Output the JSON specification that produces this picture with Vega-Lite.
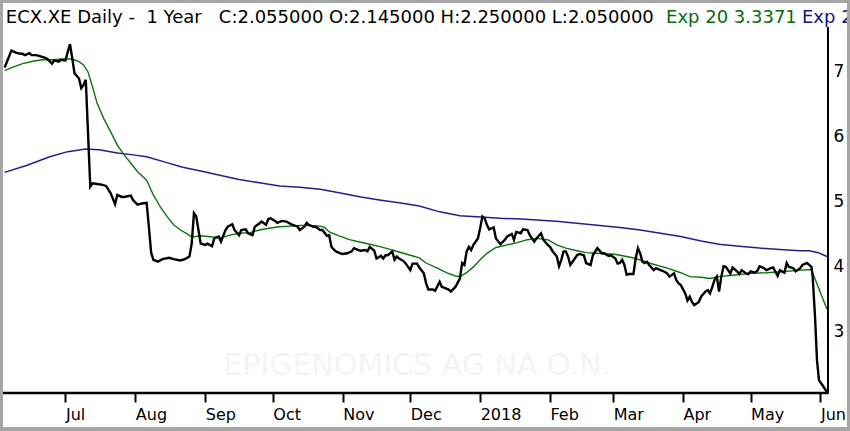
{
  "$schema": "https://vega.github.io/schema/vega-lite/v6.json",
  "width": 844,
  "height": 424,
  "autosize": {"type": "none"},
  "padding": {"left": 3, "top": 3, "right": 3, "bottom": 4},
  "background": "#a6a6a6",
  "datasets": {
    "close": [
      {"date": "2017-06-04", "value": 7.07}, {"date": "2017-06-07", "value": 7.33}, {"date": "2017-06-09", "value": 7.30},
      {"date": "2017-06-10", "value": 7.29}, {"date": "2017-06-12", "value": 7.28}, {"date": "2017-06-13", "value": 7.26},
      {"date": "2017-06-15", "value": 7.29}, {"date": "2017-06-16", "value": 7.26}, {"date": "2017-06-18", "value": 7.26},
      {"date": "2017-06-20", "value": 7.24}, {"date": "2017-06-22", "value": 7.22}, {"date": "2017-06-23", "value": 7.20},
      {"date": "2017-06-25", "value": 7.13}, {"date": "2017-06-26", "value": 7.18}, {"date": "2017-06-28", "value": 7.16},
      {"date": "2017-06-29", "value": 7.19}, {"date": "2017-07-01", "value": 7.18}, {"date": "2017-07-02", "value": 7.31},
      {"date": "2017-07-03", "value": 7.43}, {"date": "2017-07-04", "value": 7.21}, {"date": "2017-07-05", "value": 6.98},
      {"date": "2017-07-07", "value": 6.90}, {"date": "2017-07-08", "value": 6.75}, {"date": "2017-07-09", "value": 6.80},
      {"date": "2017-07-10", "value": 6.88}, {"date": "2017-07-12", "value": 5.23}, {"date": "2017-07-13", "value": 5.28},
      {"date": "2017-07-15", "value": 5.27}, {"date": "2017-07-17", "value": 5.26}, {"date": "2017-07-19", "value": 5.24},
      {"date": "2017-07-21", "value": 5.13}, {"date": "2017-07-23", "value": 4.96}, {"date": "2017-07-24", "value": 5.10},
      {"date": "2017-07-26", "value": 5.07}, {"date": "2017-07-27", "value": 5.07}, {"date": "2017-07-30", "value": 5.09},
      {"date": "2017-07-31", "value": 5.02}, {"date": "2017-08-02", "value": 4.95}, {"date": "2017-08-04", "value": 4.97},
      {"date": "2017-08-06", "value": 4.98}, {"date": "2017-08-07", "value": 4.61}, {"date": "2017-08-08", "value": 4.21},
      {"date": "2017-08-09", "value": 4.10}, {"date": "2017-08-11", "value": 4.07}, {"date": "2017-08-13", "value": 4.11},
      {"date": "2017-08-16", "value": 4.13}, {"date": "2017-08-18", "value": 4.11}, {"date": "2017-08-21", "value": 4.09},
      {"date": "2017-08-23", "value": 4.11}, {"date": "2017-08-25", "value": 4.15}, {"date": "2017-08-26", "value": 4.35},
      {"date": "2017-08-27", "value": 4.82}, {"date": "2017-08-28", "value": 4.77}, {"date": "2017-08-29", "value": 4.56},
      {"date": "2017-08-30", "value": 4.35}, {"date": "2017-09-01", "value": 4.33}, {"date": "2017-09-02", "value": 4.35},
      {"date": "2017-09-04", "value": 4.31}, {"date": "2017-09-05", "value": 4.43}, {"date": "2017-09-07", "value": 4.46},
      {"date": "2017-09-08", "value": 4.38}, {"date": "2017-09-10", "value": 4.56}, {"date": "2017-09-11", "value": 4.61},
      {"date": "2017-09-13", "value": 4.65}, {"date": "2017-09-14", "value": 4.56}, {"date": "2017-09-16", "value": 4.48},
      {"date": "2017-09-17", "value": 4.56}, {"date": "2017-09-19", "value": 4.57}, {"date": "2017-09-20", "value": 4.51},
      {"date": "2017-09-22", "value": 4.48}, {"date": "2017-09-23", "value": 4.61}, {"date": "2017-09-25", "value": 4.66},
      {"date": "2017-09-26", "value": 4.69}, {"date": "2017-09-28", "value": 4.64}, {"date": "2017-09-29", "value": 4.73},
      {"date": "2017-09-30", "value": 4.74}, {"date": "2017-10-02", "value": 4.70}, {"date": "2017-10-03", "value": 4.67},
      {"date": "2017-10-05", "value": 4.70}, {"date": "2017-10-07", "value": 4.69}, {"date": "2017-10-09", "value": 4.65},
      {"date": "2017-10-12", "value": 4.61}, {"date": "2017-10-13", "value": 4.56}, {"date": "2017-10-15", "value": 4.61},
      {"date": "2017-10-16", "value": 4.67}, {"date": "2017-10-17", "value": 4.64}, {"date": "2017-10-19", "value": 4.61},
      {"date": "2017-10-20", "value": 4.61}, {"date": "2017-10-22", "value": 4.56}, {"date": "2017-10-23", "value": 4.56},
      {"date": "2017-10-25", "value": 4.47}, {"date": "2017-10-26", "value": 4.48}, {"date": "2017-10-27", "value": 4.30},
      {"date": "2017-10-28", "value": 4.26}, {"date": "2017-10-29", "value": 4.23}, {"date": "2017-10-31", "value": 4.20},
      {"date": "2017-11-01", "value": 4.19}, {"date": "2017-11-03", "value": 4.20}, {"date": "2017-11-05", "value": 4.23},
      {"date": "2017-11-06", "value": 4.28}, {"date": "2017-11-08", "value": 4.25}, {"date": "2017-11-09", "value": 4.24},
      {"date": "2017-11-11", "value": 4.25}, {"date": "2017-11-12", "value": 4.23}, {"date": "2017-11-13", "value": 4.30},
      {"date": "2017-11-15", "value": 4.24}, {"date": "2017-11-16", "value": 4.12}, {"date": "2017-11-18", "value": 4.16},
      {"date": "2017-11-19", "value": 4.12}, {"date": "2017-11-20", "value": 4.17}, {"date": "2017-11-21", "value": 4.17},
      {"date": "2017-11-23", "value": 4.23}, {"date": "2017-11-24", "value": 4.10}, {"date": "2017-11-25", "value": 4.15},
      {"date": "2017-11-26", "value": 4.12}, {"date": "2017-11-28", "value": 4.08}, {"date": "2017-11-29", "value": 4.04},
      {"date": "2017-12-01", "value": 3.94}, {"date": "2017-12-02", "value": 4.04}, {"date": "2017-12-04", "value": 4.04},
      {"date": "2017-12-05", "value": 3.98}, {"date": "2017-12-07", "value": 3.89}, {"date": "2017-12-08", "value": 3.74},
      {"date": "2017-12-09", "value": 3.64}, {"date": "2017-12-11", "value": 3.64}, {"date": "2017-12-12", "value": 3.62},
      {"date": "2017-12-14", "value": 3.76}, {"date": "2017-12-15", "value": 3.68}, {"date": "2017-12-16", "value": 3.67},
      {"date": "2017-12-18", "value": 3.64}, {"date": "2017-12-19", "value": 3.61}, {"date": "2017-12-21", "value": 3.68},
      {"date": "2017-12-23", "value": 3.81}, {"date": "2017-12-24", "value": 4.05}, {"date": "2017-12-25", "value": 4.02},
      {"date": "2017-12-26", "value": 4.23}, {"date": "2017-12-27", "value": 4.30}, {"date": "2017-12-28", "value": 4.25},
      {"date": "2017-12-29", "value": 4.33}, {"date": "2017-12-31", "value": 4.43}, {"date": "2018-01-01", "value": 4.59},
      {"date": "2018-01-02", "value": 4.77}, {"date": "2018-01-03", "value": 4.74}, {"date": "2018-01-04", "value": 4.64},
      {"date": "2018-01-05", "value": 4.57}, {"date": "2018-01-07", "value": 4.60}, {"date": "2018-01-08", "value": 4.43},
      {"date": "2018-01-10", "value": 4.34}, {"date": "2018-01-12", "value": 4.41}, {"date": "2018-01-13", "value": 4.46},
      {"date": "2018-01-15", "value": 4.50}, {"date": "2018-01-16", "value": 4.41}, {"date": "2018-01-17", "value": 4.53},
      {"date": "2018-01-19", "value": 4.51}, {"date": "2018-01-20", "value": 4.57}, {"date": "2018-01-22", "value": 4.56},
      {"date": "2018-01-23", "value": 4.48}, {"date": "2018-01-25", "value": 4.38}, {"date": "2018-01-26", "value": 4.43},
      {"date": "2018-01-28", "value": 4.51}, {"date": "2018-01-29", "value": 4.41}, {"date": "2018-01-31", "value": 4.33},
      {"date": "2018-02-01", "value": 4.30}, {"date": "2018-02-02", "value": 4.24}, {"date": "2018-02-04", "value": 4.15},
      {"date": "2018-02-05", "value": 4.00}, {"date": "2018-02-06", "value": 4.10}, {"date": "2018-02-07", "value": 4.23},
      {"date": "2018-02-08", "value": 4.23}, {"date": "2018-02-09", "value": 4.15}, {"date": "2018-02-10", "value": 4.02},
      {"date": "2018-02-11", "value": 4.07}, {"date": "2018-02-13", "value": 4.17}, {"date": "2018-02-14", "value": 4.19},
      {"date": "2018-02-16", "value": 4.17}, {"date": "2018-02-17", "value": 4.05}, {"date": "2018-02-19", "value": 4.02},
      {"date": "2018-02-20", "value": 4.17}, {"date": "2018-02-22", "value": 4.28}, {"date": "2018-02-24", "value": 4.20},
      {"date": "2018-02-25", "value": 4.20}, {"date": "2018-02-27", "value": 4.16}, {"date": "2018-02-28", "value": 4.17},
      {"date": "2018-03-02", "value": 4.12}, {"date": "2018-03-03", "value": 4.04}, {"date": "2018-03-04", "value": 4.05},
      {"date": "2018-03-05", "value": 4.10}, {"date": "2018-03-06", "value": 4.02}, {"date": "2018-03-07", "value": 3.87},
      {"date": "2018-03-08", "value": 3.88}, {"date": "2018-03-10", "value": 3.88}, {"date": "2018-03-11", "value": 4.12},
      {"date": "2018-03-12", "value": 4.28}, {"date": "2018-03-13", "value": 4.20}, {"date": "2018-03-14", "value": 4.07},
      {"date": "2018-03-15", "value": 4.05}, {"date": "2018-03-16", "value": 4.07}, {"date": "2018-03-17", "value": 4.02},
      {"date": "2018-03-19", "value": 3.94}, {"date": "2018-03-20", "value": 3.97}, {"date": "2018-03-22", "value": 3.94},
      {"date": "2018-03-23", "value": 3.93}, {"date": "2018-03-25", "value": 3.89}, {"date": "2018-03-26", "value": 3.84},
      {"date": "2018-03-28", "value": 3.89}, {"date": "2018-03-29", "value": 3.79}, {"date": "2018-03-30", "value": 3.74},
      {"date": "2018-03-31", "value": 3.71}, {"date": "2018-04-02", "value": 3.58}, {"date": "2018-04-03", "value": 3.47},
      {"date": "2018-04-04", "value": 3.53}, {"date": "2018-04-05", "value": 3.45}, {"date": "2018-04-06", "value": 3.40},
      {"date": "2018-04-08", "value": 3.45}, {"date": "2018-04-09", "value": 3.53}, {"date": "2018-04-11", "value": 3.61},
      {"date": "2018-04-12", "value": 3.63}, {"date": "2018-04-13", "value": 3.58}, {"date": "2018-04-14", "value": 3.68},
      {"date": "2018-04-15", "value": 3.79}, {"date": "2018-04-16", "value": 3.84}, {"date": "2018-04-17", "value": 3.61},
      {"date": "2018-04-18", "value": 3.84}, {"date": "2018-04-19", "value": 4.00}, {"date": "2018-04-20", "value": 3.99},
      {"date": "2018-04-22", "value": 3.89}, {"date": "2018-04-23", "value": 3.98}, {"date": "2018-04-25", "value": 3.92},
      {"date": "2018-04-26", "value": 3.88}, {"date": "2018-04-27", "value": 3.94}, {"date": "2018-04-29", "value": 3.89},
      {"date": "2018-04-30", "value": 3.88}, {"date": "2018-05-01", "value": 3.92}, {"date": "2018-05-03", "value": 3.90},
      {"date": "2018-05-04", "value": 3.93}, {"date": "2018-05-05", "value": 4.00}, {"date": "2018-05-07", "value": 3.97},
      {"date": "2018-05-08", "value": 3.94}, {"date": "2018-05-10", "value": 3.97}, {"date": "2018-05-11", "value": 3.98},
      {"date": "2018-05-13", "value": 3.85}, {"date": "2018-05-14", "value": 3.94}, {"date": "2018-05-16", "value": 3.90},
      {"date": "2018-05-17", "value": 4.05}, {"date": "2018-05-18", "value": 3.99}, {"date": "2018-05-20", "value": 3.97},
      {"date": "2018-05-21", "value": 3.92}, {"date": "2018-05-23", "value": 3.97}, {"date": "2018-05-24", "value": 4.02},
      {"date": "2018-05-26", "value": 4.05}, {"date": "2018-05-27", "value": 4.02}, {"date": "2018-05-28", "value": 3.99},
      {"date": "2018-05-28T13:00:00Z", "value": 3.84}, {"date": "2018-05-29T14:00:00Z", "value": 3.22},
      {"date": "2018-05-30T11:00:00Z", "value": 2.55}, {"date": "2018-05-31T08:00:00Z", "value": 2.24},
      {"date": "2018-06-02T03:00:00Z", "value": 2.15}, {"date": "2018-06-03T21:00:00Z", "value": 2.055}
    ],
    "exp20": [
      {"date": "2017-06-04", "value": 7.02}, {"date": "2017-06-08", "value": 7.08}, {"date": "2017-06-12", "value": 7.13},
      {"date": "2017-06-17", "value": 7.17}, {"date": "2017-06-21", "value": 7.19}, {"date": "2017-06-26", "value": 7.19},
      {"date": "2017-06-30", "value": 7.20}, {"date": "2017-07-04", "value": 7.20}, {"date": "2017-07-07", "value": 7.16},
      {"date": "2017-07-09", "value": 7.11}, {"date": "2017-07-11", "value": 7.00}, {"date": "2017-07-13", "value": 6.77},
      {"date": "2017-07-15", "value": 6.52}, {"date": "2017-07-18", "value": 6.28}, {"date": "2017-07-21", "value": 6.08},
      {"date": "2017-07-24", "value": 5.87}, {"date": "2017-07-27", "value": 5.72}, {"date": "2017-07-30", "value": 5.59},
      {"date": "2017-08-02", "value": 5.46}, {"date": "2017-08-06", "value": 5.33}, {"date": "2017-08-09", "value": 5.10},
      {"date": "2017-08-12", "value": 4.92}, {"date": "2017-08-15", "value": 4.77}, {"date": "2017-08-18", "value": 4.64},
      {"date": "2017-08-21", "value": 4.56}, {"date": "2017-08-24", "value": 4.50}, {"date": "2017-08-26", "value": 4.45},
      {"date": "2017-08-30", "value": 4.47}, {"date": "2017-09-02", "value": 4.46}, {"date": "2017-09-05", "value": 4.45},
      {"date": "2017-09-08", "value": 4.44}, {"date": "2017-09-12", "value": 4.48}, {"date": "2017-09-16", "value": 4.51},
      {"date": "2017-09-21", "value": 4.52}, {"date": "2017-09-25", "value": 4.56}, {"date": "2017-09-30", "value": 4.59},
      {"date": "2017-10-04", "value": 4.61}, {"date": "2017-10-09", "value": 4.62}, {"date": "2017-10-13", "value": 4.63},
      {"date": "2017-10-17", "value": 4.63}, {"date": "2017-10-22", "value": 4.62}, {"date": "2017-10-24", "value": 4.60},
      {"date": "2017-10-26", "value": 4.53}, {"date": "2017-10-31", "value": 4.46}, {"date": "2017-11-04", "value": 4.41},
      {"date": "2017-11-09", "value": 4.37}, {"date": "2017-11-13", "value": 4.34}, {"date": "2017-11-18", "value": 4.30},
      {"date": "2017-11-22", "value": 4.26}, {"date": "2017-11-26", "value": 4.22}, {"date": "2017-12-01", "value": 4.17},
      {"date": "2017-12-05", "value": 4.13}, {"date": "2017-12-08", "value": 4.05}, {"date": "2017-12-13", "value": 3.97},
      {"date": "2017-12-17", "value": 3.90}, {"date": "2017-12-21", "value": 3.85}, {"date": "2017-12-23", "value": 3.84},
      {"date": "2017-12-26", "value": 3.90}, {"date": "2017-12-29", "value": 3.99}, {"date": "2018-01-01", "value": 4.10},
      {"date": "2018-01-04", "value": 4.20}, {"date": "2018-01-08", "value": 4.29}, {"date": "2018-01-13", "value": 4.33},
      {"date": "2018-01-17", "value": 4.36}, {"date": "2018-01-22", "value": 4.41}, {"date": "2018-01-26", "value": 4.43},
      {"date": "2018-01-31", "value": 4.41}, {"date": "2018-02-04", "value": 4.33}, {"date": "2018-02-08", "value": 4.28},
      {"date": "2018-02-13", "value": 4.24}, {"date": "2018-02-17", "value": 4.21}, {"date": "2018-02-22", "value": 4.20},
      {"date": "2018-02-26", "value": 4.19}, {"date": "2018-03-01", "value": 4.19}, {"date": "2018-03-04", "value": 4.17},
      {"date": "2018-03-07", "value": 4.15}, {"date": "2018-03-11", "value": 4.12}, {"date": "2018-03-17", "value": 4.05},
      {"date": "2018-03-25", "value": 3.97}, {"date": "2018-03-31", "value": 3.90}, {"date": "2018-04-04", "value": 3.84},
      {"date": "2018-04-09", "value": 3.83}, {"date": "2018-04-13", "value": 3.81}, {"date": "2018-04-17", "value": 3.84},
      {"date": "2018-04-23", "value": 3.86}, {"date": "2018-05-01", "value": 3.89}, {"date": "2018-05-08", "value": 3.90},
      {"date": "2018-05-16", "value": 3.92}, {"date": "2018-05-23", "value": 3.94}, {"date": "2018-05-28", "value": 3.95},
      {"date": "2018-05-31", "value": 3.68}, {"date": "2018-06-03T21:00:00Z", "value": 3.3371}
    ],
    "exp200": [
      {"date": "2017-06-04", "value": 5.45}, {"date": "2017-06-14", "value": 5.56}, {"date": "2017-06-24", "value": 5.69},
      {"date": "2017-07-02", "value": 5.77}, {"date": "2017-07-10", "value": 5.81}, {"date": "2017-07-16", "value": 5.80},
      {"date": "2017-07-24", "value": 5.75}, {"date": "2017-07-31", "value": 5.72}, {"date": "2017-08-06", "value": 5.69},
      {"date": "2017-08-15", "value": 5.60}, {"date": "2017-08-22", "value": 5.53}, {"date": "2017-08-30", "value": 5.47},
      {"date": "2017-09-08", "value": 5.40}, {"date": "2017-09-16", "value": 5.34}, {"date": "2017-09-25", "value": 5.29},
      {"date": "2017-10-04", "value": 5.24}, {"date": "2017-10-13", "value": 5.22}, {"date": "2017-10-22", "value": 5.19},
      {"date": "2017-10-31", "value": 5.13}, {"date": "2017-11-09", "value": 5.07}, {"date": "2017-11-18", "value": 5.02},
      {"date": "2017-11-26", "value": 4.98}, {"date": "2017-12-05", "value": 4.93}, {"date": "2017-12-14", "value": 4.84},
      {"date": "2017-12-23", "value": 4.78}, {"date": "2018-01-01", "value": 4.76}, {"date": "2018-01-10", "value": 4.74},
      {"date": "2018-01-19", "value": 4.73}, {"date": "2018-01-28", "value": 4.71}, {"date": "2018-02-05", "value": 4.69},
      {"date": "2018-02-14", "value": 4.66}, {"date": "2018-02-23", "value": 4.63}, {"date": "2018-03-04", "value": 4.60},
      {"date": "2018-03-13", "value": 4.56}, {"date": "2018-03-22", "value": 4.51}, {"date": "2018-03-31", "value": 4.46},
      {"date": "2018-04-09", "value": 4.39}, {"date": "2018-04-17", "value": 4.34}, {"date": "2018-04-26", "value": 4.31},
      {"date": "2018-05-05", "value": 4.28}, {"date": "2018-05-14", "value": 4.26}, {"date": "2018-05-23", "value": 4.24},
      {"date": "2018-05-27", "value": 4.24}, {"date": "2018-05-31", "value": 4.21}, {"date": "2018-06-03T21:00:00Z", "value": 4.15}
    ]
  },
  "layer": [
    {
      "data": {"values": [{}]},
      "mark": {"type": "text", "text": "EPIGENOMICS AG NA O.N.", "font": "DejaVu Sans", "fontSize": 30, "align": "center", "baseline": "alphabetic", "color": "#f4f4f4"},
      "encoding": {
        "x": {"datum": {"year": 2017, "month": 12, "date": 4, "utc": true}, "type": "temporal"},
        "y": {"datum": 2.32, "type": "quantitative"}
      }
    },
    {
      "data": {"name": "exp200"},
      "mark": {"type": "line", "stroke": "#2b1b8a", "strokeWidth": 1.5},
      "encoding": {
        "x": {
          "field": "date", "type": "temporal", "title": null,
          "scale": {
            "type": "utc", "nice": false,
            "domain": [
              {"year": 2017, "month": 6, "date": 3, "hours": 6, "minutes": 30, "utc": true},
              {"year": 2018, "month": 6, "date": 12, "hours": 18, "minutes": 30, "utc": true}
            ]
          },
          "axis": {
            "orient": "bottom", "offset": -34, "domain": false, "grid": false,
            "values": [
              {"year": 2017, "month": 7, "date": 1, "utc": true}, {"year": 2017, "month": 8, "date": 1, "utc": true},
              {"year": 2017, "month": 9, "date": 1, "utc": true}, {"year": 2017, "month": 10, "date": 1, "utc": true},
              {"year": 2017, "month": 11, "date": 1, "utc": true}, {"year": 2017, "month": 12, "date": 1, "utc": true},
              {"year": 2018, "month": 1, "date": 1, "utc": true}, {"year": 2018, "month": 2, "date": 1, "utc": true},
              {"year": 2018, "month": 3, "date": 1, "utc": true}, {"year": 2018, "month": 4, "date": 1, "utc": true},
              {"year": 2018, "month": 5, "date": 1, "utc": true}, {"year": 2018, "month": 6, "date": 1, "utc": true}
            ],
            "labelExpr": "utcmonth(datum.value) == 0 ? utcFormat(datum.value, '%Y') : utcFormat(datum.value, '%b')",
            "tickSize": 9, "tickWidth": 2, "tickColor": "black",
            "labelAlign": "left", "labelBaseline": "top", "labelPadding": 4,
            "labelFont": "DejaVu Sans", "labelFontSize": 16, "labelColor": "black",
            "labelFlush": false, "labelOverlap": false
          }
        },
        "y": {
          "field": "value", "type": "quantitative", "title": null,
          "scale": {"domain": [1.5174, 8.0656], "nice": false, "zero": false},
          "axis": {
            "orient": "right", "offset": -19, "domain": false, "grid": false,
            "ticks": false, "tickSize": 0, "values": [3, 4, 5, 6, 7], "format": "d",
            "labelPadding": 5, "labelAlign": "left", "labelBaseline": "middle",
            "labelFont": "DejaVu Sans", "labelFontSize": 17, "labelColor": "black"
          }
        }
      }
    },
    {
      "data": {"name": "exp20"},
      "mark": {"type": "line", "stroke": "#0e720e", "strokeWidth": 1.4},
      "encoding": {
        "x": {"field": "date", "type": "temporal", "title": null},
        "y": {"field": "value", "type": "quantitative", "title": null}
      }
    },
    {
      "data": {"name": "close"},
      "mark": {"type": "line", "stroke": "#000000", "strokeWidth": 2.4},
      "encoding": {
        "x": {"field": "date", "type": "temporal", "title": null},
        "y": {"field": "value", "type": "quantitative", "title": null}
      }
    },
    {
      "data": {"values": [{}]},
      "mark": {"type": "rule", "color": "black", "strokeWidth": 2.5},
      "encoding": {
        "x": {"datum": {"year": 2017, "month": 6, "date": 3, "hours": 6, "minutes": 30, "utc": true}, "type": "temporal"},
        "x2": {"datum": {"year": 2018, "month": 6, "date": 4, "hours": 8, "utc": true}},
        "y": {"datum": 2.0424, "type": "quantitative"}
      }
    },
    {
      "data": {"values": [{}]},
      "mark": {"type": "rule", "color": "black", "strokeWidth": 2},
      "encoding": {
        "x": {"datum": {"year": 2018, "month": 6, "date": 4, "hours": 8, "utc": true}, "type": "temporal"},
        "y": {"datum": 2.03, "type": "quantitative"},
        "y2": {"datum": 7.695}
      }
    },
    {
      "data": {"values": [{}]},
      "mark": {"type": "text", "text": "ECX.XE Daily -\u00a0 1 Year\u00a0\u00a0 C:2.055000 O:2.145000 H:2.250000 L:2.050000", "font": "DejaVu Sans", "fontSize": 18, "align": "left", "baseline": "alphabetic", "color": "black"},
      "encoding": {
        "x": {"datum": {"year": 2017, "month": 6, "date": 4, "hours": 12, "utc": true}, "type": "temporal"},
        "y": {"datum": 7.757, "type": "quantitative"}
      }
    },
    {
      "data": {"values": [{}]},
      "mark": {"type": "text", "text": "Exp 20 3.3371", "font": "DejaVu Sans", "fontSize": 18, "align": "left", "baseline": "alphabetic", "color": "#0b6a0b"},
      "encoding": {
        "x": {"datum": {"year": 2018, "month": 3, "date": 24, "hours": 11, "utc": true}, "type": "temporal"},
        "y": {"datum": 7.757, "type": "quantitative"}
      }
    },
    {
      "data": {"values": [{}]},
      "mark": {"type": "text", "text": "Exp 200", "font": "DejaVu Sans", "fontSize": 18, "align": "left", "baseline": "alphabetic", "color": "#22107a", "clip": true},
      "encoding": {
        "x": {"datum": {"year": 2018, "month": 5, "date": 23, "hours": 19, "utc": true}, "type": "temporal"},
        "y": {"datum": 7.757, "type": "quantitative"}
      }
    }
  ],
  "config": {
    "view": {"fill": "white", "stroke": null},
    "axis": {"grid": false}
  }
}
